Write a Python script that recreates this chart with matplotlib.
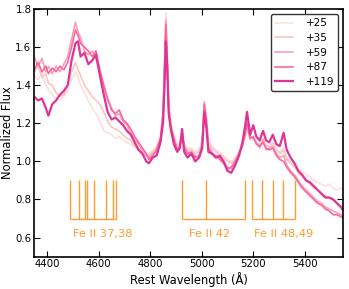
import numpy as np
import matplotlib
matplotlib.use("Agg")
import matplotlib.pyplot as plt

# rest wavelength grid (A), shared by all epochs
wave = [4350, 4365, 4380, 4395, 4405, 4420, 4435, 4450, 4465, 4480,
        4495, 4510, 4520, 4530, 4545, 4560, 4575, 4590, 4605, 4620,
        4635, 4650, 4665, 4680, 4695, 4710, 4725, 4740, 4755, 4770,
        4785, 4795, 4810, 4825, 4840, 4850, 4856, 4861, 4866, 4872,
        4880, 4892, 4905, 4915, 4924, 4932, 4945, 4960, 4975, 4990,
        5002, 5010, 5018, 5026, 5040, 5055, 5070, 5085, 5100, 5115,
        5130, 5145, 5158, 5168, 5176, 5188, 5200, 5212, 5225, 5238,
        5250, 5262, 5276, 5290, 5303, 5318, 5330, 5345, 5360, 5375,
        5390, 5405, 5420, 5435, 5450, 5465, 5480, 5495, 5510, 5525,
        5540, 5550]

flux_25 = [1.45, 1.43, 1.46, 1.40, 1.38, 1.35, 1.33, 1.32, 1.34, 1.37,
           1.43, 1.47, 1.44, 1.40, 1.36, 1.32, 1.28, 1.25, 1.21, 1.16,
           1.15, 1.14, 1.12, 1.13, 1.11, 1.10, 1.09, 1.07, 1.06, 1.05,
           1.04, 1.04, 1.06, 1.08, 1.13, 1.28, 1.55, 1.78, 1.58, 1.32,
           1.21, 1.14, 1.09, 1.10, 1.12, 1.09, 1.07, 1.07, 1.05, 1.06,
           1.12, 1.32, 1.25, 1.11, 1.08, 1.06, 1.05, 1.03, 1.01, 1.00,
           1.02, 1.05, 1.08, 1.12, 1.16, 1.11, 1.12, 1.10, 1.09, 1.11,
           1.08, 1.08, 1.09, 1.06, 1.05, 1.07, 1.02, 1.00, 0.98, 0.96,
           0.95, 0.93, 0.92, 0.90, 0.89, 0.88, 0.87, 0.88, 0.86, 0.85,
           0.86, 0.84]

flux_35 = [1.47, 1.50, 1.44, 1.46, 1.41, 1.40, 1.36, 1.34, 1.35, 1.40,
           1.47, 1.52, 1.48, 1.45, 1.40, 1.37, 1.34, 1.32, 1.30, 1.26,
           1.21, 1.18, 1.17, 1.16, 1.14, 1.12, 1.11, 1.08, 1.07, 1.05,
           1.03, 1.03, 1.05, 1.07, 1.12, 1.26, 1.52, 1.75, 1.55, 1.30,
           1.20, 1.13, 1.08, 1.09, 1.13, 1.08, 1.06, 1.06, 1.04, 1.05,
           1.10, 1.30, 1.24, 1.10, 1.07, 1.05, 1.04, 1.02, 1.00, 0.99,
           1.01, 1.05, 1.09, 1.13, 1.18, 1.12, 1.13, 1.10, 1.09, 1.12,
           1.08, 1.08, 1.10, 1.06, 1.04, 1.06, 1.01, 0.99, 0.97, 0.94,
           0.92, 0.90, 0.88, 0.86, 0.85, 0.83, 0.82, 0.81, 0.80, 0.78,
           0.77, 0.76]

flux_59 = [1.55, 1.50, 1.54, 1.47, 1.50, 1.46, 1.50, 1.47, 1.51, 1.55,
           1.64, 1.73, 1.68, 1.65, 1.58, 1.56, 1.58, 1.54, 1.46, 1.39,
           1.32, 1.28, 1.24, 1.25, 1.21, 1.19, 1.15, 1.12, 1.09, 1.06,
           1.03, 1.02, 1.04, 1.05, 1.11, 1.24, 1.50, 1.74, 1.52, 1.27,
           1.19, 1.11, 1.07, 1.07, 1.14, 1.08, 1.05, 1.03, 1.03, 1.02,
           1.10, 1.31, 1.20, 1.08, 1.05, 1.02, 1.02, 1.00, 0.97, 0.96,
           0.99, 1.03, 1.09, 1.15, 1.21, 1.13, 1.12, 1.10, 1.07, 1.11,
           1.06, 1.07, 1.08, 1.04, 1.02, 1.03, 0.98, 0.95, 0.93, 0.90,
           0.87, 0.85, 0.83, 0.81, 0.79, 0.78, 0.76, 0.75, 0.74, 0.73,
           0.72, 0.71]

flux_87 = [1.48, 1.52, 1.47, 1.50, 1.46, 1.49, 1.47, 1.50, 1.48, 1.52,
           1.60, 1.69, 1.66, 1.62, 1.60, 1.58, 1.55, 1.58, 1.48, 1.40,
           1.33, 1.27, 1.25, 1.27, 1.22, 1.20, 1.17, 1.13, 1.10, 1.07,
           1.04, 1.01, 1.03, 1.06, 1.12, 1.25, 1.50, 1.72, 1.55, 1.28,
           1.18, 1.12, 1.06, 1.08, 1.15, 1.07, 1.04, 1.05, 1.02, 1.03,
           1.08, 1.30, 1.22, 1.07, 1.04, 1.03, 1.01, 0.99, 0.96, 0.97,
           1.00, 1.04, 1.08, 1.14, 1.20, 1.12, 1.13, 1.09, 1.08, 1.10,
           1.07, 1.06, 1.07, 1.03, 1.01, 1.00, 0.97, 0.94, 0.92, 0.89,
           0.86, 0.84, 0.82, 0.80, 0.78, 0.77, 0.75, 0.74, 0.72, 0.72,
           0.71, 0.70]

flux_119 = [1.34, 1.32, 1.33, 1.28, 1.24, 1.30, 1.32, 1.35, 1.37, 1.40,
            1.53, 1.62, 1.63, 1.55, 1.57, 1.51, 1.53, 1.56, 1.45, 1.35,
            1.26, 1.22, 1.23, 1.21, 1.19, 1.16, 1.14, 1.10, 1.06, 1.04,
            1.00, 0.99, 1.02, 1.03, 1.10, 1.20, 1.40, 1.63, 1.50, 1.25,
            1.17, 1.09, 1.05, 1.07, 1.17, 1.05, 1.02, 1.04, 1.00, 1.02,
            1.07, 1.26, 1.18, 1.05, 1.04, 1.02, 1.03, 1.00, 0.95, 0.94,
            0.98, 1.03, 1.10, 1.18, 1.26, 1.14, 1.19, 1.13, 1.11, 1.16,
            1.11, 1.10, 1.14, 1.09, 1.08, 1.15, 1.06, 1.02, 0.99, 0.95,
            0.93, 0.90, 0.89, 0.87, 0.85, 0.83, 0.81, 0.81, 0.80, 0.78,
            0.76, 0.74]

epochs = ["+25", "+35", "+59", "+87", "+119"]
colors = ["#fde0dd", "#fcc5c0", "#fa9fb5", "#f768a1", "#dd3497"]
widths = [1.2, 1.2, 1.2, 1.2, 1.6]

# Fe II multiplet line positions
fe_37_38 = [4489, 4523, 4549, 4555, 4583, 4629, 4657, 4666]
fe_42 = [4924, 5018, 5169]
fe_48_49 = [5197, 5234, 5276, 5316, 5363]
fe_labels = ["Fe II 37,38", "Fe II 42", "Fe II 48,49"]
fe_label_x = [4615, 5032, 5317]

fe_color = "#ff9b30"

fig = plt.figure(figsize=(3.49, 2.89), dpi=100)
ax = fig.add_axes([0.098, 0.112, 0.886, 0.857])

spectra = [flux_25, flux_35, flux_59, flux_87, flux_119]
for flux, lab, c, lw in zip(spectra, epochs, colors, widths):
    ax.plot(wave, flux, color=c, lw=lw, label=lab)

for lines, txt, tx in zip([fe_37_38, fe_42, fe_48_49], fe_labels, fe_label_x):
    ax.vlines(lines, 0.7, 0.9, color=fe_color, lw=1.0)
    ax.hlines(0.7, min(lines), max(lines), color=fe_color, lw=1.0)
    ax.text(tx, 0.62, txt, color=fe_color, fontsize=8.2, ha="center", va="center")

ax.set_xlim(4350, 5550)
ax.set_ylim(0.5, 1.8)
ax.set_xticks(np.arange(4400, 5401, 200))
ax.set_yticks(np.arange(0.6, 1.81, 0.2))
ax.tick_params(direction="in", top=True, right=True, labelsize=7.3, length=4,
               width=0.8, pad=2)
ax.set_xlabel("Rest Wavelength (\u00c5)", fontsize=8.3, labelpad=2)
ax.set_ylabel("Normalized Flux", fontsize=8.3, labelpad=1)
for sp in ax.spines.values():
    sp.set_linewidth(1.2)

leg = ax.legend(loc="upper right", fontsize=7.5, handlelength=1.7, handletextpad=1.2,
                labelspacing=0.45, borderaxespad=0.5, fancybox=True, framealpha=1)
leg.get_frame().set_edgecolor("#333333")

fig.savefig("out.png", dpi=100)
